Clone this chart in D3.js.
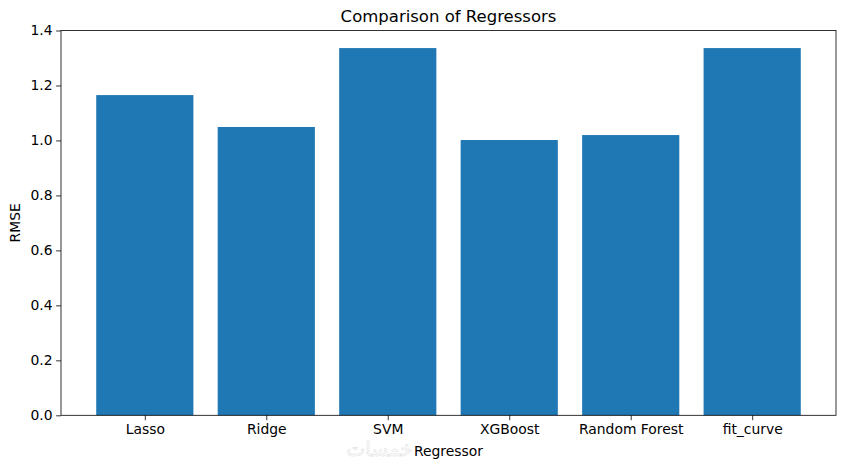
<!DOCTYPE html>
<html><head><meta charset="utf-8">
<script src="https://cdn.jsdelivr.net/npm/d3@7"></script>
<style>body{margin:0;background:#fff}svg{display:block}text{font-family:"DejaVu Sans",sans-serif}</style>
</head><body>
<svg id="c" width="846" height="468"></svg>
<script>
const categories = ["Lasso","Ridge","SVM","XGBoost","Random Forest","fit_curve"];
const rmse = [1.165, 1.049, 1.336, 1.0015, 1.0196, 1.336];
const yTicks = [0.0,0.2,0.4,0.6,0.8,1.0,1.2,1.4];

const svg = d3.select("#c");
const L = 61, R = 836, T = 30.5, B = 415.3;
const n = categories.length;
const x = d3.scaleLinear().domain([-0.4 - 0.05*(n-0.2), (n-1)+0.4 + 0.05*(n-0.2)]).range([L, R]);
const y = d3.scaleLinear().domain([0, 1.4]).range([B, T]);
const bw = 0.8;

svg.append("g").selectAll("rect").data(rmse).join("rect")
  .attr("x", (d,i)=>x(i-bw/2)).attr("width", (d,i)=>x(i+bw/2)-x(i-bw/2))
  .attr("y", d=>y(d)).attr("height", d=>y(0)-y(d))
  .attr("fill", "#1f77b4");

const yAxis = d3.axisLeft(y).tickValues(yTicks).tickFormat(d3.format(".1f")).tickSize(4.9).tickPadding(3.5);
const gy = svg.append("g").attr("transform", `translate(${L},0)`).call(yAxis);
const xAxis = d3.axisBottom(d3.scaleLinear().domain(x.domain()).range(x.range()))
  .tickValues(d3.range(n)).tickFormat(i=>categories[i]).tickSize(4.9).tickPadding(3.5);
const gx = svg.append("g").attr("transform", `translate(0,${B})`).call(xAxis);
[gx, gy].forEach(g=>{
  g.select(".domain").remove();
  g.selectAll(".tick line").attr("stroke","#000").attr("stroke-width",0.8);
  g.selectAll(".tick text").attr("fill","#000").style("font-size","13.9px").style("font-family","DejaVu Sans");
});

svg.append("rect").attr("x",L).attr("y",T).attr("width",R-L).attr("height",B-T)
  .attr("fill","none").attr("stroke","#000").attr("stroke-width",0.8);

svg.append("text").attr("x",(L+R)/2).attr("y",22).attr("text-anchor","middle")
  .style("font-size","16.5px").text("Comparison of Regressors");

svg.append("text").attr("x",413).attr("y",456).attr("text-anchor","end")
  .attr("fill","none").attr("stroke","#e2e2e2").attr("stroke-width",1).attr("stroke-dasharray","1.5,1")
  .style("font-size","20px").text("خمسات");

svg.append("text").attr("x",(L+R)/2).attr("y",456).attr("text-anchor","middle")
  .style("font-size","13.9px").text("Regressor");
svg.append("text").attr("transform",`translate(20,${(T+B)/2}) rotate(-90)`).attr("text-anchor","middle")
  .style("font-size","13.9px").text("RMSE");
</script>
</body></html>
